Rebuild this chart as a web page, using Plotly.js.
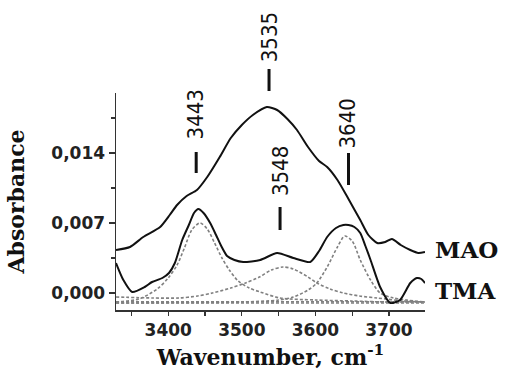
<!DOCTYPE html>
<html>
<head>
<meta charset="utf-8">
<script src="https://cdn.plot.ly/plotly-3.0.1.min.js"></script>
<style>
  html, body { margin: 0; padding: 0; background: #ffffff; }
  #chart { width: 510px; height: 383px; }
</style>
</head>
<body>
<div id="chart"></div>
<script>
// ---- data ----
const waveMAO = [3329, 3348, 3366, 3389, 3402, 3412, 3425, 3439, 3453, 3470, 3485, 3500, 3515, 3534, 3548, 3562, 3575, 3590, 3605, 3616, 3630, 3645, 3661, 3672, 3684, 3695, 3704, 3716, 3729, 3740, 3749];
const absMAO  = [0.0043, 0.0046, 0.0056, 0.0066, 0.0078, 0.0088, 0.0097, 0.0103, 0.0116, 0.0136, 0.0155, 0.0168, 0.0178, 0.0186, 0.0183, 0.0174, 0.0163, 0.0146, 0.0132, 0.0126, 0.0113, 0.0094, 0.0073, 0.0058, 0.0050, 0.0051, 0.0054, 0.0048, 0.0043, 0.0040, 0.0041];

const waveTMA = [3329, 3339, 3351, 3368, 3378, 3392, 3401, 3409, 3419, 3428, 3435, 3441, 3448, 3457, 3465, 3472, 3480, 3490, 3502, 3525, 3548, 3570, 3593, 3605, 3616, 3628, 3638, 3645, 3653, 3661, 3668, 3675, 3688, 3702, 3715, 3729, 3738, 3744, 3749];
const absTMA  = [0.0030, 0.0013, 0.0001, 0.0006, 0.0011, 0.0015, 0.0020, 0.0030, 0.0053, 0.0068, 0.0080, 0.0084, 0.0080, 0.0070, 0.0058, 0.0047, 0.0037, 0.0033, 0.0031, 0.0033, 0.0040, 0.0035, 0.0031, 0.0042, 0.0056, 0.0065, 0.0068, 0.0068, 0.0066, 0.0060, 0.0047, 0.0033, 0.0006, -0.0010, -0.0007, 0.0010, 0.0015, 0.0014, 0.0010];

const waveBand1 = [3329, 3360, 3385, 3400, 3412, 3422, 3432, 3443, 3453, 3463, 3473, 3483, 3495, 3510, 3525, 3552, 3600, 3650, 3700, 3749];
const absBand1  = [-0.0009, -0.0006, 0.0004, 0.0015, 0.0028, 0.0045, 0.0063, 0.0070, 0.0064, 0.0050, 0.0035, 0.0023, 0.0012, 0.0005, 0.0001, -0.0005, -0.0007, -0.0008, -0.0009, -0.0009];

const waveBand2 = [3329, 3380, 3415, 3440, 3460, 3485, 3505, 3524, 3540, 3556, 3570, 3590, 3602, 3620, 3638, 3660, 3684, 3720, 3749];
const absBand2  = [-0.0004, -0.0005, -0.0005, -0.0003, 0.0000, 0.0005, 0.0010, 0.0016, 0.0023, 0.0026, 0.0024, 0.0016, 0.0010, 0.0004, 0.0000, -0.0003, -0.0005, -0.0008, -0.0009];

const waveBand3 = [3329, 3500, 3550, 3570, 3590, 3602, 3616, 3630, 3640, 3650, 3661, 3675, 3688, 3706, 3749];
const absBand3  = [-0.0010, -0.0009, -0.0007, -0.0004, 0.0003, 0.0010, 0.0026, 0.0046, 0.0057, 0.0052, 0.0033, 0.0013, 0.0000, -0.0005, -0.0009];

const waveBase = [3329, 3749];
const absBaseA = [-0.00087, -0.00087];
const absBaseB = [-0.0010, -0.0010];

const yTickVals = [0.000, 0.007, 0.014];
const yTickText = ['0,000', '0,007', '0,014'];
const xTickVals = [3400, 3500, 3600, 3700];
const xTickText = ['3400', '3500', '3600', '3700'];

const seriesNames = ['MAO', 'TMA'];

// peak labels (wavenumber text, where they sit, in absorbance units)
const peakLabels    = ['3443', '3535', '3548', '3640'];
const peakLabelX    = [3437, 3538, 3552, 3643];
const peakLabelY    = [0.0179, 0.02555, 0.01220, 0.01695];
const peakBarX      = [3438, 3537, 3552, 3645];
const peakBarTop    = [0.0141, 0.0224, 0.0086, 0.0140];
const peakBarBottom = [0.0120, 0.0202, 0.0063, 0.0108];

// ---- axes ----
const xRange = [3329, 3749];
const yRange = [-0.0017, 0.0200];
const toPaperY = v => (v - yRange[0]) / (yRange[1] - yRange[0]);

// ---- traces ----
const solid = { color: '#111111', width: 2 };
const dotted = { color: '#808080', width: 1.6, dash: '3px,2px' };

const traces = [
  { x: waveBase, y: absBaseA, mode: 'lines', line: dotted, hoverinfo: 'skip' },
  { x: waveBase, y: absBaseB, mode: 'lines', line: dotted, hoverinfo: 'skip' },
  { x: waveBand1, y: absBand1, mode: 'lines', line: Object.assign({shape: 'spline', smoothing: 0.8}, dotted) },
  { x: waveBand2, y: absBand2, mode: 'lines', line: Object.assign({shape: 'spline', smoothing: 0.8}, dotted) },
  { x: waveBand3, y: absBand3, mode: 'lines', line: Object.assign({shape: 'spline', smoothing: 0.8}, dotted) },
  { x: waveMAO, y: absMAO, mode: 'lines', name: seriesNames[0], line: Object.assign({shape: 'spline', smoothing: 0.6}, solid) },
  { x: waveTMA, y: absTMA, mode: 'lines', name: seriesNames[1], line: Object.assign({shape: 'spline', smoothing: 0.6}, solid) }
];

const annotations = [];
peakLabels.forEach((t, i) => {
  annotations.push({
    x: peakLabelX[i], y: toPaperY(peakLabelY[i]), xref: 'x', yref: 'paper',
    text: t, textangle: -90, showarrow: false,
    xanchor: 'center', yanchor: 'middle',
    font: { family: '"Liberation Sans Narrow", "Arial Narrow", "DejaVu Sans Condensed", "Liberation Sans", sans-serif', size: 22, color: '#111111' }
  });
});
// series labels at the right end
const lastMAO = absMAO[absMAO.length - 1];
const lastTMA = absTMA[absTMA.length - 1];
annotations.push({
  x: 1, xref: 'paper', xshift: 8, y: toPaperY(lastMAO + 0.0003), yref: 'paper', text: seriesNames[0],
  showarrow: false, xanchor: 'left', yanchor: 'middle',
  font: { family: '"DejaVu Serif", "Liberation Serif", serif', size: 23, color: '#111111', weight: 'bold' }
});
annotations.push({
  x: 1, xref: 'paper', xshift: 8, y: toPaperY(lastTMA - 0.0007), yref: 'paper', text: seriesNames[1],
  showarrow: false, xanchor: 'left', yanchor: 'middle',
  font: { family: '"DejaVu Serif", "Liberation Serif", serif', size: 23, color: '#111111', weight: 'bold' }
});

const shapes = peakBarX.map((bx, i) => ({
  type: 'line', xref: 'x', yref: 'paper',
  x0: bx, x1: bx, y0: toPaperY(peakBarBottom[i]), y1: toPaperY(peakBarTop[i]),
  line: { color: '#111111', width: 3 }
}));

const tickFont = { family: '"DejaVu Sans", "Liberation Sans", sans-serif', size: 17, color: '#222222', weight: 'bold' };
const titleFont = { family: '"DejaVu Serif", "Liberation Serif", serif', size: 22, color: '#111111', weight: 'bold' };

const layout = {
  width: 510, height: 383,
  margin: { l: 116, r: 85, t: 93, b: 73 },
  paper_bgcolor: '#ffffff', plot_bgcolor: '#ffffff',
  showlegend: false,
  xaxis: {
    range: xRange,
    showgrid: false, zeroline: false,
    showline: true, linecolor: '#333333', linewidth: 1.5,
    ticks: 'outside', ticklen: 4, tickwidth: 1.2, tickcolor: '#333333',
    tickvals: xTickVals, ticktext: xTickText,
    tickfont: tickFont,
    minor: { dtick: 50, tick0: 3350, ticks: 'outside', ticklen: 4, tickwidth: 1.2, tickcolor: '#333333', showgrid: false },
    title: { text: 'Wavenumber, cm<sup>-1</sup>', font: titleFont, standoff: 10 }
  },
  yaxis: {
    range: yRange,
    showgrid: false, zeroline: false,
    showline: true, linecolor: '#333333', linewidth: 1.5,
    ticks: 'outside', ticklen: 6, tickwidth: 1.2, tickcolor: '#333333',
    tickvals: yTickVals, ticktext: yTickText,
    tickfont: tickFont,
    minor: { dtick: 0.0035, tick0: 0, ticks: 'outside', ticklen: 4, tickwidth: 1.2, tickcolor: '#333333', showgrid: false },
    title: { text: 'Absorbance', font: titleFont, standoff: 20 }
  },
  annotations: annotations,
  shapes: shapes
};

Plotly.newPlot('chart', traces, layout, { displayModeBar: false, staticPlot: true });
</script>
</body>
</html>
